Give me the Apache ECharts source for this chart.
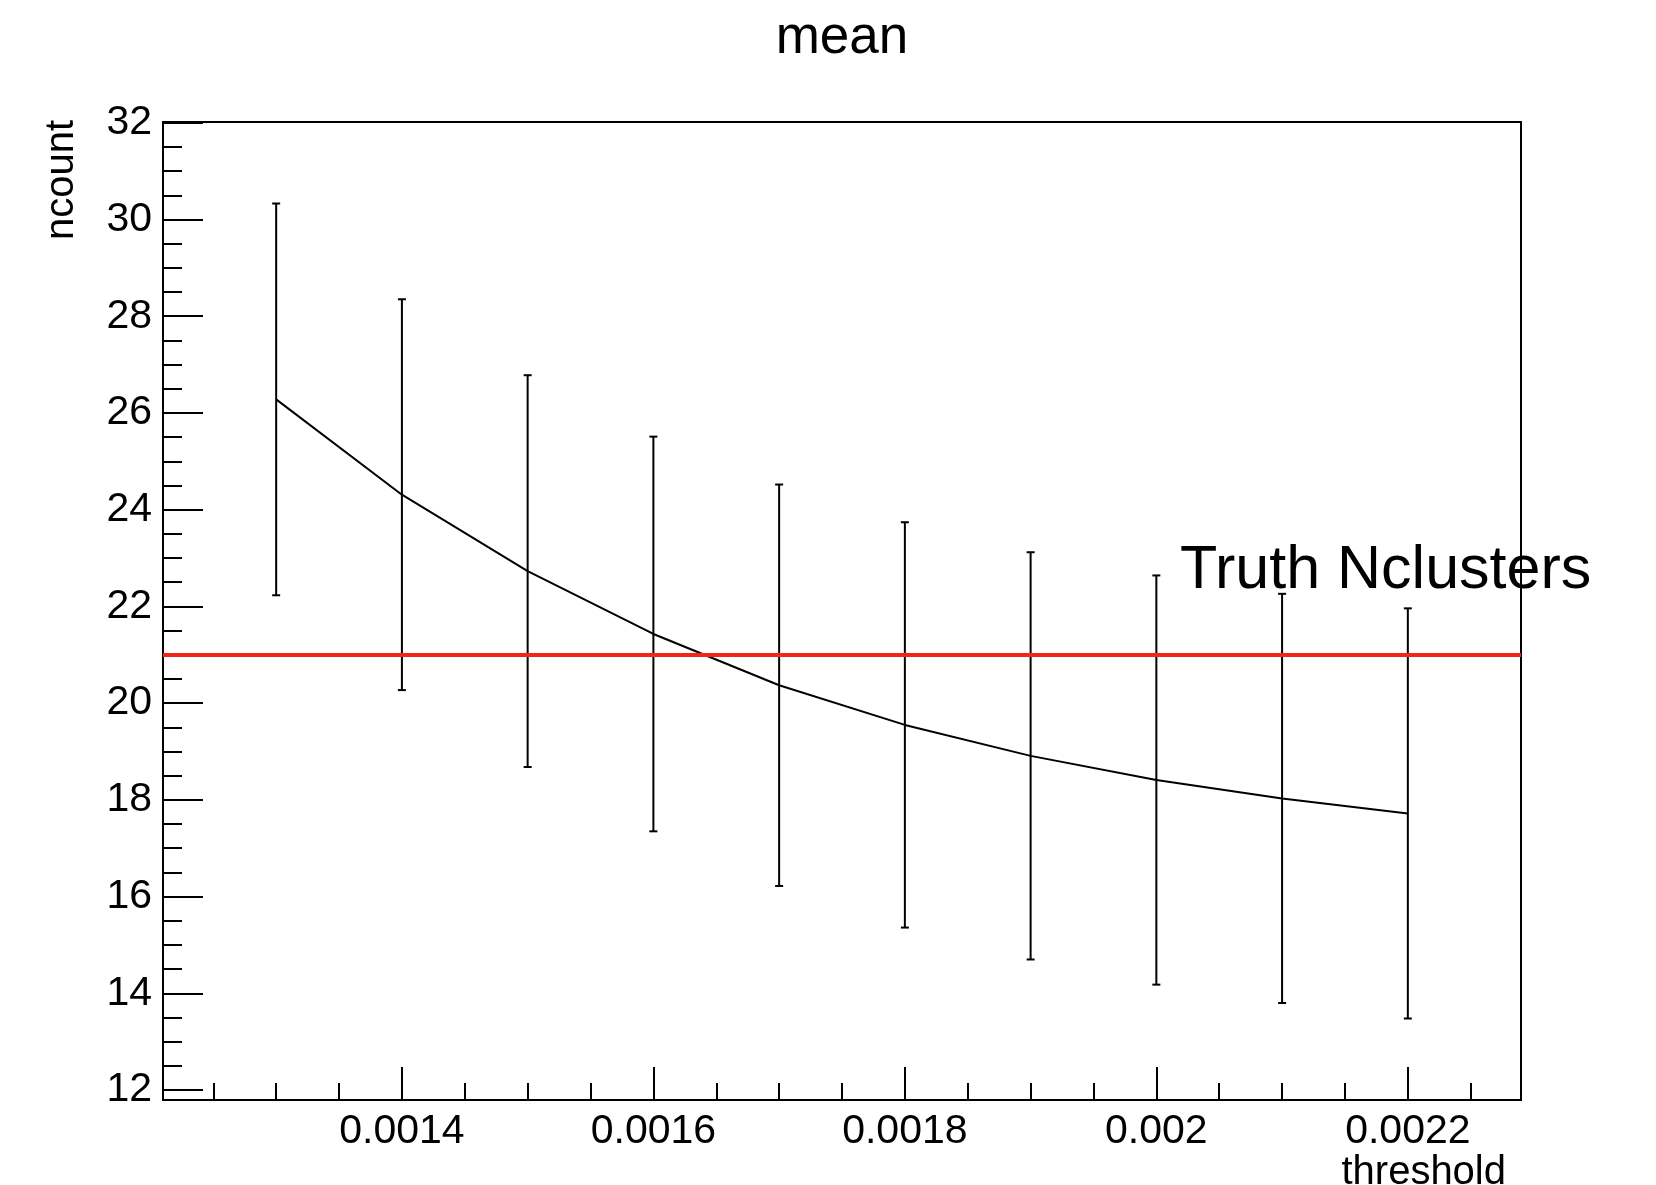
<!DOCTYPE html>
<html>
<head>
<meta charset="utf-8">
<script src="https://cdn.jsdelivr.net/npm/echarts@6/dist/echarts.min.js"></script>
<style>
html,body{margin:0;padding:0;background:#fff;}
#chart{width:1656px;height:1185px;}
</style>
</head>
<body>
<div id="chart"></div>
<script>
// ---- data ----
const thresholds = [0.0013, 0.0014, 0.0015, 0.0016, 0.0017, 0.0018, 0.0019, 0.0020, 0.0021, 0.0022];
const meanNcount = [26.28, 24.31, 22.73, 21.43, 20.37, 19.55, 18.91, 18.41, 18.03, 17.72];
const ncountErr  = [4.05, 4.04, 4.05, 4.08, 4.15, 4.19, 4.21, 4.23, 4.23, 4.24];
const truthNclusters = 21;

const xMajorTicks  = [0.0014, 0.0016, 0.0018, 0.0020, 0.0022];
const xTickLabels  = ['0.0014', '0.0016', '0.0018', '0.002', '0.0022'];
const xMinorTicks  = [0.00125, 0.0013, 0.00135, 0.00145, 0.0015, 0.00155, 0.00165, 0.0017, 0.00175,
                      0.00185, 0.0019, 0.00195, 0.00205, 0.0021, 0.00215, 0.00225];
const yMajorTicks  = [12, 14, 16, 18, 20, 22, 24, 26, 28, 30, 32];
const yTickLabels  = ['12', '14', '16', '18', '20', '22', '24', '26', '28', '30', '32'];
const yMinorTicks  = [12.5, 13, 13.5, 14.5, 15, 15.5, 16.5, 17, 17.5, 18.5, 19, 19.5, 20.5, 21, 21.5,
                      22.5, 23, 23.5, 24.5, 25, 25.5, 26.5, 27, 27.5, 28.5, 29, 29.5, 30.5, 31, 31.5];
const xRange = [0.00121, 0.00229];
const yRange = [11.795, 32.015];

// ---- build ----
const FONT = '"Liberation Sans", Arial, Helvetica, sans-serif';
const meanData = thresholds.map((x, i) => [x, meanNcount[i]]);
const errData  = thresholds.map((x, i) => [x, meanNcount[i] - ncountErr[i], meanNcount[i] + ncountErr[i]]);

function labelFor(values, labels) {
  return function (v) {
    let best = 0, bd = Infinity;
    values.forEach((t, i) => { const d = Math.abs(t - v); if (d < bd) { bd = d; best = i; } });
    return labels[best];
  };
}

const chart = echarts.init(document.getElementById('chart'), null, {renderer: 'canvas'});
const gridLeft = 163, gridTop = 122, gridW = 1358, gridH = 978;

const baseX = {
  type: 'value', gridIndex: 0, position: 'bottom', min: xRange[0], max: xRange[1],
  splitLine: {show: false}
};
const baseY = {
  type: 'value', gridIndex: 0, position: 'left', min: yRange[0], max: yRange[1],
  splitLine: {show: false}
};

chart.setOption({
  animation: false,
  backgroundColor: '#fff',
  title: {
    text: 'mean', left: gridLeft + gridW / 2, top: 12, textAlign: 'center', padding: 0,
    textStyle: {fontFamily: FONT, fontSize: 53, fontWeight: 'normal', color: '#000'}
  },
  grid: {
    left: gridLeft, top: gridTop, width: gridW, height: gridH,
    show: true, borderColor: '#000', borderWidth: 2, backgroundColor: 'transparent'
  },
  xAxis: [
    Object.assign({}, baseX, {
      axisLine: {show: true, onZero: false, lineStyle: {color: '#000', width: 2}},
      axisTick: {show: true, inside: true, length: 33, customValues: xMajorTicks, lineStyle: {color: '#000', width: 2}},
      axisLabel: {show: true, customValues: xMajorTicks, formatter: labelFor(xMajorTicks, xTickLabels),
                  margin: 11, fontFamily: FONT, fontSize: 41, color: '#000'}
    }),
    Object.assign({}, baseX, {
      axisLine: {show: false, onZero: false},
      axisTick: {show: true, inside: true, length: 17, customValues: xMinorTicks, lineStyle: {color: '#000', width: 2}},
      axisLabel: {show: false}
    })
  ],
  yAxis: [
    Object.assign({}, baseY, {
      axisLine: {show: true, onZero: false, lineStyle: {color: '#000', width: 2}},
      axisTick: {show: true, inside: true, length: 40, customValues: yMajorTicks, lineStyle: {color: '#000', width: 2}},
      axisLabel: {show: true, customValues: yMajorTicks, formatter: labelFor(yMajorTicks, yTickLabels),
                  margin: 11, fontFamily: FONT, fontSize: 41, color: '#000'}
    }),
    Object.assign({}, baseY, {
      axisLine: {show: false, onZero: false},
      axisTick: {show: true, inside: true, length: 19, customValues: yMinorTicks, lineStyle: {color: '#000', width: 2}},
      axisLabel: {show: false}
    })
  ],
  series: [
    {
      name: 'truth', type: 'line', xAxisIndex: 0, yAxisIndex: 0, data: [], z: 1,
      markLine: {
        silent: true, symbol: ['none', 'none'], animation: false,
        label: {show: false},
        lineStyle: {color: '#f0261a', width: 4, type: 'solid'},
        data: [{yAxis: truthNclusters}]
      }
    },
    {
      name: 'mean', type: 'line', xAxisIndex: 0, yAxisIndex: 0, data: meanData, z: 3,
      symbol: 'none', lineStyle: {color: '#000', width: 2}
    },
    {
      name: 'err', type: 'custom', xAxisIndex: 0, yAxisIndex: 0, data: errData, z: 4,
      encode: {x: 0, y: [1, 2]},
      renderItem: function (params, api) {
        const x = api.value(0), lo = api.value(1), hi = api.value(2);
        const pLo = api.coord([x, lo]), pHi = api.coord([x, hi]);
        const cap = 4;
        const st = {stroke: '#000', lineWidth: 2, fill: null};
        return {type: 'group', children: [
          {type: 'line', shape: {x1: pLo[0], y1: pLo[1], x2: pHi[0], y2: pHi[1]}, style: st},
          {type: 'line', shape: {x1: pHi[0] - cap, y1: pHi[1], x2: pHi[0] + cap, y2: pHi[1]}, style: st},
          {type: 'line', shape: {x1: pLo[0] - cap, y1: pLo[1], x2: pLo[0] + cap, y2: pLo[1]}, style: st}
        ]};
      }
    }
  ],
  graphic: [
    {type: 'text', x: 62, y: 120, rotation: Math.PI / 2, z: 10,
     style: {text: 'ncount', align: 'right', verticalAlign: 'middle', font: '40px ' + FONT, fill: '#000'}},
    {type: 'text', x: 1506, y: 1173, z: 10,
     style: {text: 'threshold', align: 'right', verticalAlign: 'middle', font: '40px ' + FONT, fill: '#000'}},
    {type: 'text', x: 1180, y: 571, z: 10,
     style: {text: 'Truth Nclusters', align: 'left', verticalAlign: 'middle', font: '61px ' + FONT, fill: '#000'}}
  ]
});
</script>
</body>
</html>
